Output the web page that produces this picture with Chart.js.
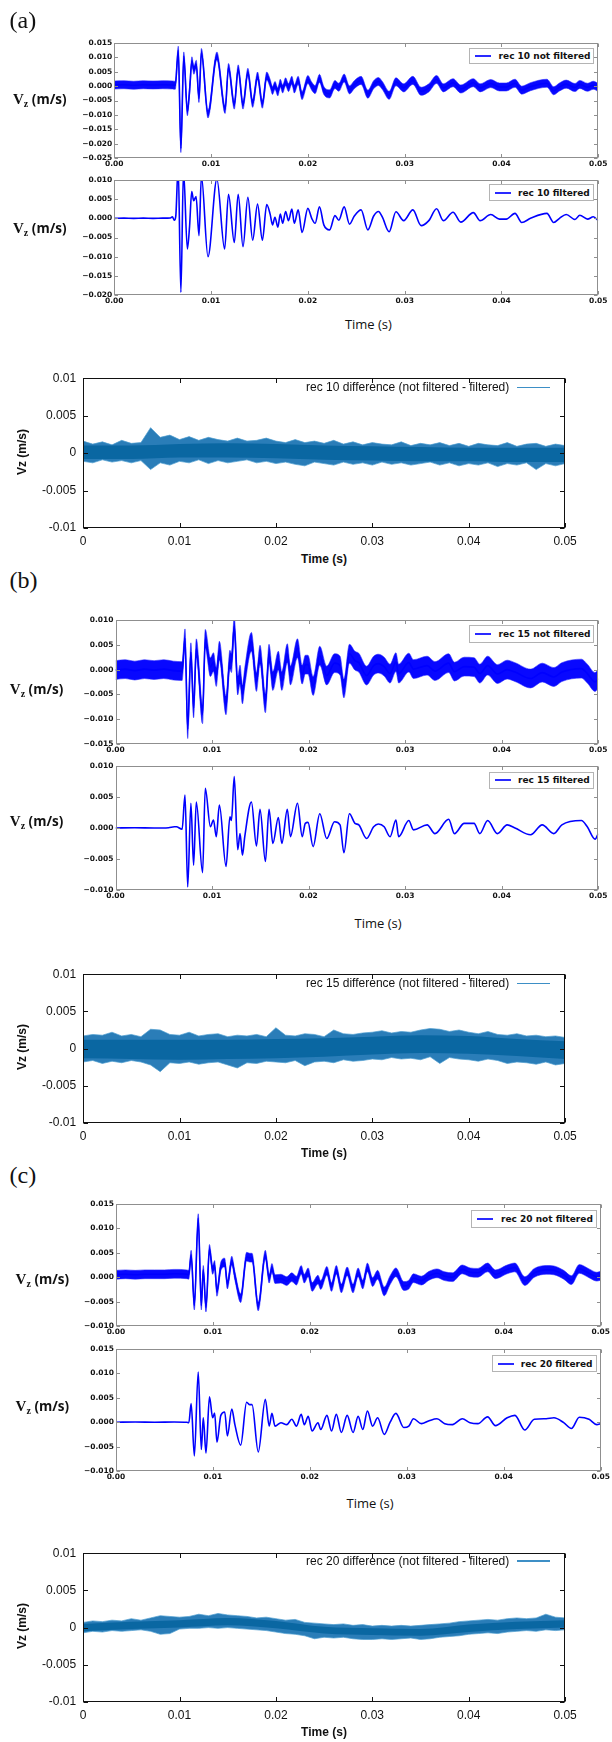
<!DOCTYPE html>
<html><head><meta charset="utf-8">
<script src="https://cdn.jsdelivr.net/npm/chart.js@4.4.1/dist/chart.umd.min.js"></script>
<style>
html,body{margin:0;padding:0;background:#fff;}
#page{position:relative;width:612px;height:1742px;overflow:hidden;background:#fff;}
#page canvas{position:absolute;left:0;}
.t{position:absolute;white-space:nowrap;z-index:5;color:#111;line-height:1;}
.panel{font-family:'Liberation Serif',serif;font-size:24px;}
.vz{font-family:'Open Sans',sans-serif;font-weight:700;font-size:13.5px;transform:translateY(-50%);}
.vz .v{font-family:'Liberation Serif',serif;font-weight:700;font-size:15px;}
.vz sub{font-family:'Liberation Serif',serif;font-weight:700;font-size:10px;vertical-align:-3px;line-height:1;}
.mtime{font-family:'Open Sans',sans-serif;font-size:13px;transform:translate(-50%,-50%);}
.mleg{position:absolute;z-index:5;background:#fff;border:1px solid #b4b4b4;box-sizing:border-box;}
.mleg .s{position:absolute;left:5px;width:16px;height:2px;top:50%;margin-top:-1px;background:#2a2aff;}
.mleg .x{position:absolute;top:50%;font-family:'DejaVu Sans',sans-serif;font-weight:bold;font-size:9px;line-height:1;transform:translateY(-50%);white-space:nowrap;color:#111;}
.gleg{font-family:'Liberation Sans',sans-serif;font-size:12px;transform:translate(-100%,-50%);}
.gs{position:absolute;z-index:5;height:1.5px;background:#3d8fc6;}
.gtime{font-family:'Liberation Sans',sans-serif;font-weight:bold;font-size:12px;transform:translate(-50%,-50%);}
.gvz{font-family:'Liberation Sans',sans-serif;font-weight:bold;font-size:12px;transform:translate(-50%,-50%) rotate(-90deg);}
</style>
</head><body>
<div id="page">
  <div class="t panel" style="left:9.5px;top:7.5px">(a)</div>
  <div class="t panel" style="left:9.5px;top:568px">(b)</div>
  <div class="t panel" style="left:9.5px;top:1162.5px">(c)</div>

  <div class="t vz" style="left:13px;top:100px"><span class="v">V</span><sub>z</sub> (m/s)</div>
  <div class="t vz" style="left:13px;top:229px"><span class="v">V</span><sub>z</sub> (m/s)</div>
  <div class="t vz" style="left:9.8px;top:690px"><span class="v">V</span><sub>z</sub> (m/s)</div>
  <div class="t vz" style="left:9.8px;top:821.7px"><span class="v">V</span><sub>z</sub> (m/s)</div>
  <div class="t vz" style="left:15.6px;top:1280px"><span class="v">V</span><sub>z</sub> (m/s)</div>
  <div class="t vz" style="left:15.6px;top:1406.7px"><span class="v">V</span><sub>z</sub> (m/s)</div>

  <div class="t mtime" style="left:368.4px;top:324px">Time (s)</div>
  <div class="t mtime" style="left:378px;top:922.7px">Time (s)</div>
  <div class="t mtime" style="left:370px;top:1503.3px">Time (s)</div>

  <div class="mleg" style="left:469px;top:47.7px;width:125px;height:16.6px"><div class="s"></div><div class="x" style="left:28.6px">rec 10 not filtered</div></div>
  <div class="mleg" style="left:489px;top:184.3px;width:105px;height:16.7px"><div class="s"></div><div class="x" style="left:28px">rec 10 filtered</div></div>
  <div class="mleg" style="left:469px;top:625px;width:125px;height:17.7px"><div class="s"></div><div class="x" style="left:28.6px">rec 15 not filtered</div></div>
  <div class="mleg" style="left:489px;top:771.7px;width:105px;height:17.3px"><div class="s"></div><div class="x" style="left:28px">rec 15 filtered</div></div>
  <div class="mleg" style="left:471.4px;top:1210px;width:125.3px;height:17.7px"><div class="s"></div><div class="x" style="left:28.6px">rec 20 not filtered</div></div>
  <div class="mleg" style="left:491.7px;top:1355px;width:105px;height:17.3px"><div class="s"></div><div class="x" style="left:28px">rec 20 filtered</div></div>

  <div class="t gleg" style="left:509.3px;top:387.3px">rec 10 difference (not filtered - filtered)</div>
  <div class="gs" style="left:517px;width:33px;top:386.5px"></div>
  <div class="t gleg" style="left:509.3px;top:983.3px">rec 15 difference (not filtered - filtered)</div>
  <div class="gs" style="left:517px;width:33px;top:982.5px"></div>
  <div class="t gleg" style="left:509.3px;top:1561px">rec 20 difference (not filtered - filtered)</div>
  <div class="gs" style="left:517px;width:33px;top:1560.2px"></div>

  <div class="t gtime" style="left:324px;top:558.7px">Time (s)</div>
  <div class="t gtime" style="left:324px;top:1153.3px">Time (s)</div>
  <div class="t gtime" style="left:324px;top:1732.3px">Time (s)</div>
  <div class="t gvz" style="left:21.5px;top:451.7px">Vz (m/s)</div>
  <div class="t gvz" style="left:21.5px;top:1046.7px">Vz (m/s)</div>
  <div class="t gvz" style="left:21.5px;top:1625.7px">Vz (m/s)</div>
</div>
<script>
// ---------- axis ticks ----------
const timeTicks = [0, 0.01, 0.02, 0.03, 0.04, 0.05];
const mplTimeLabels = ['0.00', '0.01', '0.02', '0.03', '0.04', '0.05'];
const gnuTimeLabels = ['0', '0.01', '0.02', '0.03', '0.04', '0.05'];
const rec10NotFilteredYTicks = [0.015, 0.01, 0.005, 0, -0.005, -0.01, -0.015, -0.02, -0.025];
const rec10FilteredYTicks = [0.01, 0.005, 0, -0.005, -0.01, -0.015, -0.02];
const rec15NotFilteredYTicks = [0.01, 0.005, 0, -0.005, -0.01, -0.015];
const rec15FilteredYTicks = [0.01, 0.005, 0, -0.005, -0.01];
const rec20YTicks = [0.015, 0.01, 0.005, 0, -0.005, -0.01];
const diffYTicks = [0.01, 0.005, 0, -0.005, -0.01];
const diffYTickLabels = ['0.01', '0.005', '0', '-0.005', '-0.01'];

// ---------- rec 10 ----------  [time (s), Vz (m/s)]
const rec10NotFiltered = [[0,0.0004],[0.001,0.0005],[0.002,0.0003],[0.003,0.0005],[0.004,0.0004],[0.005,0.0005],[0.006,0.0004],[0.0063,0.0003],[0.00661,0.0125],[0.00688,-0.0217],[0.00718,0.0105],[0.00755,-0.0089],[0.00778,-0.0015],[0.00802,0.0088],[0.00822,0.0055],[0.00847,0.0076],[0.00875,-0.0043],[0.009,0.0117],[0.00968,-0.0097],[0.0106,0.0105],[0.01145,-0.0081],[0.0118,0.0065],[0.0124,-0.0066],[0.0128,0.006],[0.0133,-0.0066],[0.0138,0.0048],[0.0143,-0.006],[0.0148,0.0035],[0.0153,-0.0063],[0.01575,0.0035],[0.0161,0.001],[0.01635,-0.0015],[0.0166,0.0002],[0.0169,-0.002],[0.01715,0.001],[0.0174,-0.001],[0.0177,0.0015],[0.018,-0.0005],[0.01835,0.002],[0.0186,-0.001],[0.019,0.002],[0.0194,-0.0033],[0.02,0.0023],[0.0204,0],[0.02075,-0.0012],[0.0212,0.0027],[0.02165,-0.0015],[0.02225,-0.0027],[0.0228,0.0006],[0.0232,-0.0004],[0.02375,0.0028],[0.0243,-0.0013],[0.0248,0.0005],[0.0255,0.002],[0.0262,-0.0028],[0.0268,0.0005],[0.0273,0.0016],[0.0277,0.0002],[0.0284,-0.0032],[0.0291,0.0015],[0.0299,-0.0006],[0.03085,0.002],[0.0317,-0.0018],[0.0325,-0.0006],[0.0333,0.0023],[0.034,-0.0006],[0.035,0.0012],[0.0358,-0.001],[0.0371,0.0012],[0.0378,-0.0006],[0.0389,0.0009],[0.0398,-0.0003],[0.0405,-0.0003],[0.0414,0.001],[0.0421,-0.0014],[0.043,-0.0002],[0.0447,0.001],[0.0454,-0.0016],[0.046,-0.0003],[0.0467,0.0007],[0.0476,-0.0005],[0.0481,0.0006],[0.0489,-0.0004],[0.0495,0.0003],[0.05,-0.0005]];
const rec10NoiseHalfWidth = 0.0014;
const rec10Filtered = [[0,0],[0.001,0.00005],[0.002,0],[0.003,0.00005],[0.004,0],[0.005,0.00005],[0.0058,0.0001],[0.006,0.0004],[0.0062,-0.0005],[0.00635,0.0005],[0.0066,0.0135],[0.00688,-0.0193],[0.00715,0.0125],[0.00755,-0.008],[0.00778,-0.002],[0.008,0.007],[0.0082,0.0046],[0.00845,0.0057],[0.00875,-0.0045],[0.009,0.011],[0.00968,-0.01],[0.0106,0.0102],[0.0114,-0.008],[0.0118,0.0063],[0.0124,-0.0063],[0.0128,0.0063],[0.0133,-0.0074],[0.0138,0.0055],[0.0143,-0.0057],[0.0148,0.0037],[0.0153,-0.0057],[0.01575,0.0036],[0.0161,0.0011],[0.01635,-0.0017],[0.0166,0.0003],[0.0169,-0.0023],[0.01715,0.0011],[0.0174,-0.0013],[0.0177,0.0018],[0.018,-0.0006],[0.01835,0.0024],[0.0186,-0.0013],[0.019,0.0022],[0.0194,-0.0037],[0.02,0.0026],[0.0204,0],[0.02075,-0.0013],[0.0212,0.003],[0.02165,-0.0017],[0.02225,-0.003],[0.0228,0.0007],[0.0232,-0.0005],[0.02375,0.003],[0.0243,-0.0015],[0.0248,0.0006],[0.0255,0.0022],[0.0262,-0.003],[0.0268,0.0006],[0.0273,0.0018],[0.0277,0.0003],[0.0284,-0.0035],[0.0291,0.0017],[0.0299,-0.0006],[0.03085,0.0022],[0.0317,-0.0019],[0.0325,-0.0006],[0.0333,0.0025],[0.034,-0.0006],[0.035,0.0016],[0.0358,-0.001],[0.0371,0.0015],[0.0378,-0.0006],[0.0389,0.001],[0.0398,-0.0002],[0.0405,-0.0002],[0.0414,0.0013],[0.0421,-0.0011],[0.043,0],[0.0447,0.0013],[0.0454,-0.0011],[0.046,0],[0.0467,0.001],[0.0476,-0.0003],[0.0481,0.0008],[0.0489,-0.0002],[0.0495,0.0004],[0.05,-0.0006]];

// ---------- rec 15 ----------
const rec15NotFiltered = [[0,-0.0001],[0.001,0.0001],[0.002,-0.0002],[0.003,0.0001],[0.004,-0.0001],[0.005,0.0001],[0.006,-0.0002],[0.0069,-0.0003],[0.0072,0.0063],[0.00748,-0.012],[0.00781,0.0035],[0.00809,-0.0078],[0.00837,0.0043],[0.00902,-0.009],[0.0093,0.0062],[0.00983,0.0005],[0.01015,0.0015],[0.01044,-0.0015],[0.01076,0.0038],[0.01145,-0.0072],[0.01185,0.002],[0.01201,0.0013],[0.0123,0.0088],[0.01266,-0.0032],[0.0129,-0.001],[0.01315,-0.005],[0.01339,-0.0015],[0.01408,0.0056],[0.0146,-0.0025],[0.01497,0.003],[0.01553,-0.0068],[0.0159,0.0032],[0.0163,-0.0023],[0.01687,0.0018],[0.01723,-0.0023],[0.0178,0.0033],[0.01812,-0.0012],[0.01885,0.0043],[0.01934,-0.001],[0.01966,0.001],[0.01994,0.001],[0.02047,-0.0033],[0.02116,0.0028],[0.02188,-0.0012],[0.02269,0.0013],[0.02326,0.0008],[0.02366,-0.0038],[0.02423,0.0032],[0.0248,0.0018],[0.0252,0.0014],[0.02601,-0.0012],[0.02674,0.0008],[0.02723,0.0012],[0.02783,0.0006],[0.02844,-0.0008],[0.02905,0.0015],[0.02933,-0.0008],[0.03038,0.0014],[0.03087,0.0001],[0.03228,0.0008],[0.03309,-0.0003],[0.03451,0.0013],[0.03511,-0.0004],[0.03612,0.0006],[0.03714,0.0005],[0.03774,-0.0008],[0.03855,0.0008],[0.03956,-0.0009],[0.04057,0],[0.04138,-0.0005],[0.043,-0.0018],[0.0442,-0.0006],[0.0454,-0.0015],[0.04624,-0.0005],[0.04826,0.0002],[0.04887,-0.0008],[0.04968,-0.0025],[0.05,-0.0018]];
const rec15NoiseHalfWidth = 0.0019;
const rec15Filtered = [[0,0],[0.002,0.00005],[0.004,0],[0.0055,0.00005],[0.0061,0.0002],[0.0063,0.0002],[0.0069,-0.0002],[0.0072,0.0053],[0.00748,-0.0095],[0.00781,0.004],[0.00809,-0.006],[0.00837,0.0042],[0.00902,-0.0072],[0.0093,0.0064],[0.00983,0.0002],[0.01015,0.0013],[0.01044,-0.0014],[0.01076,0.0037],[0.01145,-0.0062],[0.01185,0.0018],[0.01201,0.0012],[0.0123,0.0083],[0.01266,-0.0035],[0.0129,-0.0009],[0.01315,-0.0044],[0.01339,-0.0014],[0.01408,0.0042],[0.0146,-0.0029],[0.01497,0.003],[0.01553,-0.0054],[0.0159,0.003],[0.0163,-0.0025],[0.01687,0.0017],[0.01723,-0.0025],[0.0178,0.003],[0.01812,-0.0014],[0.01885,0.004],[0.01934,-0.0014],[0.01966,0.00075],[0.01994,0.0009],[0.02047,-0.003],[0.02116,0.0023],[0.02188,-0.0017],[0.02269,0.001],[0.02326,0.0005],[0.02366,-0.004],[0.02423,0.0023],[0.0248,0.00075],[0.0252,0.0005],[0.02601,-0.0017],[0.02674,0.0002],[0.02723,0.00065],[0.02783,0.0002],[0.02844,-0.0014],[0.02905,0.0013],[0.02933,-0.0014],[0.03038,0.0012],[0.03087,-0.0003],[0.03228,0.0005],[0.03309,-0.0009],[0.03451,0.0014],[0.03511,-0.0009],[0.03612,0.00075],[0.03714,0.00075],[0.03774,-0.0009],[0.03855,0.0012],[0.03956,-0.0009],[0.04057,0.0005],[0.04138,0],[0.043,-0.0011],[0.0442,0.0005],[0.0454,-0.0009],[0.04624,0.0005],[0.04826,0.0012],[0.04887,0.0002],[0.04968,-0.0018],[0.05,-0.0009]];

// ---------- rec 20 ----------
const rec20NotFiltered = [[0,0.0005],[0.001,0.0006],[0.002,0.0005],[0.003,0.0006],[0.004,0.0006],[0.005,0.0006],[0.006,0.0007],[0.0073,0.0006],[0.00752,0.0005],[0.00776,0.0046],[0.00809,-0.0058],[0.00849,0.0121],[0.00881,-0.0058],[0.00901,0.0015],[0.00929,-0.0062],[0.00965,0.0058],[0.00998,0.0015],[0.01018,0.0025],[0.01042,-0.003],[0.01082,0.0022],[0.01122,0.003],[0.0115,-0.0015],[0.01195,0.0034],[0.01227,0.0003],[0.01287,-0.0043],[0.01348,0.0042],[0.0138,0.004],[0.01404,0.004],[0.01468,-0.006],[0.01541,0.0046],[0.01581,-0.0003],[0.01609,0.0019],[0.01641,-0.0004],[0.01702,-0.0003],[0.01762,-0.0008],[0.01814,0],[0.01862,-0.0007],[0.01911,0.0015],[0.01943,-0.0003],[0.01983,0.001],[0.02023,-0.002],[0.02084,-0.0005],[0.02112,-0.0016],[0.02176,0.0013],[0.02224,-0.002],[0.02273,0.0015],[0.02325,-0.0023],[0.02385,0.0012],[0.02446,-0.0023],[0.02498,0.001],[0.02546,-0.0015],[0.02594,0.002],[0.02647,-0.001],[0.02699,0.0005],[0.02768,-0.0029],[0.02828,-0.0006],[0.02888,0.001],[0.02969,-0.0018],[0.03021,-0.0015],[0.03069,-0.0002],[0.0315,-0.0007],[0.0323,0.0003],[0.03311,0.0008],[0.03391,0.0002],[0.03471,0],[0.03572,0.0016],[0.03652,0.001],[0.03733,0.0009],[0.03833,0.002],[0.03914,0.0006],[0.04035,0.0016],[0.04115,0.002],[0.04216,-0.0008],[0.04316,0.0009],[0.04437,0.0015],[0.04517,0.0014],[0.04618,0.0005],[0.04698,-0.0006],[0.04779,0.0017],[0.04879,0.0008],[0.0496,0.0001],[0.05,0.0003]];
const rec20NoiseHalfWidth = 0.0009;
const rec20Filtered = [[0,0],[0.002,0.00005],[0.004,0],[0.006,0.00005],[0.0073,0],[0.00752,-0.0001],[0.00776,0.0038],[0.00809,-0.0069],[0.00849,0.0103],[0.00881,-0.0056],[0.00901,0.0009],[0.00929,-0.0063],[0.00965,0.0052],[0.00998,0.0009],[0.01018,0.0019],[0.01042,-0.0041],[0.01082,0.0014],[0.01122,0.0021],[0.0115,-0.0028],[0.01195,0.0027],[0.01227,-0.0005],[0.01287,-0.0047],[0.01348,0.0041],[0.0138,0.0036],[0.01404,0.0036],[0.01468,-0.0061],[0.01541,0.0047],[0.01581,-0.0008],[0.01609,0.0018],[0.01641,-0.0008],[0.01702,-0.0001],[0.01762,-0.0005],[0.01814,0.0006],[0.01862,-0.0008],[0.01911,0.0016],[0.01943,-0.0005],[0.01983,0.0012],[0.02023,-0.0018],[0.02084,-0.0001],[0.02112,-0.0015],[0.02176,0.0014],[0.02224,-0.0018],[0.02273,0.0016],[0.02325,-0.0021],[0.02385,0.0014],[0.02446,-0.0021],[0.02498,0.0012],[0.02546,-0.0015],[0.02594,0.0023],[0.02647,-0.0008],[0.02699,0.0009],[0.02768,-0.0025],[0.02828,0],[0.02888,0.0018],[0.02969,-0.0011],[0.03021,-0.0008],[0.03069,0.0007],[0.0315,-0.0003],[0.0323,0.0003],[0.03311,0.0007],[0.03391,-0.0003],[0.03471,-0.0005],[0.03572,0.0007],[0.03652,-0.0001],[0.03733,-0.0003],[0.03833,0.0011],[0.03914,-0.0007],[0.04035,0.0009],[0.04115,0.0014],[0.04216,-0.0016],[0.04316,0.0006],[0.04437,0.0007],[0.04517,0.0009],[0.04618,-0.0001],[0.04698,-0.0013],[0.04779,0.001],[0.04879,0.0006],[0.0496,-0.0005],[0.05,-0.0003]];

// ---------- differences (noise envelope: spike extent and dense core) ----------
const diffTime = [0,0.001,0.002,0.003,0.004,0.005,0.006,0.007,0.008,0.009,0.01,0.011,0.012,0.013,0.014,0.015,0.016,0.017,0.018,0.019,0.02,0.021,0.022,0.023,0.024,0.025,0.026,0.027,0.028,0.029,0.03,0.031,0.032,0.033,0.034,0.035,0.036,0.037,0.038,0.039,0.04,0.041,0.042,0.043,0.044,0.045,0.046,0.047,0.048,0.049,0.05];
const diffCoreTime = [0,0.005,0.01,0.015,0.02,0.025,0.03,0.035,0.04,0.045,0.05];

const rec10DiffHigh = [0.0016,0.0012,0.0015,0.0011,0.0017,0.0013,0.0014,0.0034,0.0021,0.0024,0.0018,0.0022,0.0017,0.0021,0.0018,0.0016,0.0020,0.0016,0.0017,0.0020,0.0016,0.0014,0.0018,0.0014,0.0016,0.0013,0.0017,0.0012,0.0015,0.0011,0.0014,0.0012,0.0011,0.0015,0.0010,0.0013,0.0011,0.0014,0.0010,0.0013,0.0009,0.0013,0.0011,0.0010,0.0014,0.0009,0.0012,0.0013,0.0009,0.0012,0.0010];
const rec10DiffLow = [-0.0011,-0.0013,-0.0009,-0.0012,-0.0010,-0.0013,-0.0010,-0.0022,-0.0013,-0.0016,-0.0011,-0.0013,-0.0009,-0.0014,-0.0010,-0.0013,-0.0011,-0.0009,-0.0013,-0.0011,-0.0014,-0.0012,-0.0015,-0.0017,-0.0012,-0.0014,-0.0016,-0.0012,-0.0015,-0.0013,-0.0016,-0.0012,-0.0015,-0.0013,-0.0016,-0.0014,-0.0012,-0.0016,-0.0013,-0.0017,-0.0014,-0.0016,-0.0013,-0.0018,-0.0014,-0.0016,-0.0013,-0.0022,-0.0014,-0.0017,-0.0014];
const rec10DiffCoreHigh = [0.0010,0.0010,0.0012,0.0013,0.0012,0.0010,0.0009,0.0008,0.0007,0.0007,0.0007];
const rec10DiffCoreLow = [-0.0008,-0.0008,-0.0006,-0.0006,-0.0007,-0.0009,-0.0010,-0.0011,-0.0011,-0.0012,-0.0012];

const rec15DiffHigh = [0.0017,0.0019,0.0018,0.0022,0.0017,0.0019,0.0016,0.0026,0.0025,0.0019,0.0018,0.0022,0.0017,0.0019,0.0020,0.0016,0.0018,0.0017,0.0019,0.0016,0.0028,0.0018,0.0017,0.0020,0.0019,0.0016,0.0025,0.0020,0.0019,0.0021,0.0022,0.0024,0.0021,0.0023,0.0022,0.0025,0.0027,0.0026,0.0023,0.0025,0.0022,0.0020,0.0023,0.0019,0.0018,0.0020,0.0017,0.0018,0.0016,0.0017,0.0015];
const rec15DiffLow = [-0.0018,-0.0016,-0.0020,-0.0017,-0.0019,-0.0016,-0.0018,-0.0022,-0.0031,-0.0019,-0.0020,-0.0018,-0.0021,-0.0019,-0.0018,-0.0022,-0.0026,-0.0019,-0.0020,-0.0017,-0.0018,-0.0019,-0.0016,-0.0023,-0.0018,-0.0017,-0.0019,-0.0015,-0.0017,-0.0016,-0.0014,-0.0015,-0.0012,-0.0014,-0.0013,-0.0015,-0.0011,-0.0020,-0.0012,-0.0014,-0.0015,-0.0017,-0.0014,-0.0016,-0.0020,-0.0018,-0.0019,-0.0021,-0.0018,-0.0022,-0.0020];
const rec15DiffCoreHigh = [0.0012,0.0012,0.0012,0.0012,0.0013,0.0014,0.0016,0.0018,0.0017,0.0013,0.0010];
const rec15DiffCoreLow = [-0.0013,-0.0014,-0.0015,-0.0014,-0.0013,-0.0011,-0.0008,-0.0006,-0.0007,-0.0010,-0.0014];

const rec20DiffHigh = [0.0007,0.0009,0.0008,0.0010,0.0009,0.0012,0.0010,0.0013,0.0016,0.0015,0.0014,0.0015,0.0018,0.0016,0.0019,0.0017,0.0016,0.0015,0.0013,0.0014,0.0012,0.0010,0.0011,0.0007,0.0006,0.0005,0.0004,0.0005,0.0003,0.0004,0.0002,0.0003,0.0002,0.0003,0.0002,0.0003,0.0004,0.0005,0.0006,0.0008,0.0009,0.0010,0.0011,0.0010,0.0012,0.0013,0.0012,0.0013,0.0018,0.0014,0.0013];
const rec20DiffLow = [-0.0007,-0.0005,-0.0006,-0.0004,-0.0005,-0.0004,-0.0003,-0.0005,-0.0009,-0.0008,-0.0002,-0.0001,-0.0001,0.0000,-0.0001,0.0000,-0.0001,-0.0002,-0.0003,-0.0004,-0.0006,-0.0008,-0.0009,-0.0011,-0.0015,-0.0013,-0.0014,-0.0013,-0.0015,-0.0016,-0.0016,-0.0015,-0.0016,-0.0015,-0.0014,-0.0016,-0.0015,-0.0013,-0.0012,-0.0011,-0.0009,-0.0008,-0.0007,-0.0008,-0.0006,-0.0005,-0.0004,-0.0005,-0.0003,-0.0004,-0.0003];
const rec20DiffCoreHigh = [0.0005,0.0008,0.0010,0.0013,0.0009,0.0001,-0.0001,-0.0002,0.0004,0.0008,0.0010];
const rec20DiffCoreLow = [-0.0005,-0.0002,0.0000,0.0003,-0.0001,-0.0008,-0.0010,-0.0011,-0.0006,-0.0002,0.0000];

// ---------- helpers ----------
const MPL_BLUE = '#0000ff';
const GNU_CORE = '#0a67a2';
const GNU_EDGE = '#4f9dd0';
const mplYLabel = v => (v < 0 ? '\u2212' : '') + Math.abs(v).toFixed(3);

function lineDataset(pairs) {
  return {data: pairs.map(p => ({x: p[0], y: p[1]})), borderColor: MPL_BLUE, borderWidth: 1.6,
          fill: false, cubicInterpolationMode: 'monotone'};
}
function noisyDatasets(pairs, half) {
  return [
    lineDataset(pairs),
    {data: pairs.map(p => ({x: p[0], y: p[1] + half})), borderWidth: 0.8, borderColor: 'rgba(40,40,255,0.7)', fill: false, cubicInterpolationMode: 'monotone'},
    {data: pairs.map(p => ({x: p[0], y: p[1] - half})), borderWidth: 0.8, borderColor: 'rgba(40,40,255,0.7)', fill: '-1', backgroundColor: '#0808ff', cubicInterpolationMode: 'monotone'}
  ];
}
// Chart.js paints the last dataset first, so the dense core (first) ends up on top of the spike envelope.
function diffDatasets(hi, lo, coreHi, coreLo) {
  return [
    {data: diffCoreTime.map((t, i) => ({x: t, y: coreHi[i]})), borderWidth: 0, borderColor: 'rgba(0,0,0,0)', fill: false, cubicInterpolationMode: 'monotone'},
    {data: diffCoreTime.map((t, i) => ({x: t, y: coreLo[i]})), borderWidth: 0, borderColor: 'rgba(0,0,0,0)', fill: '-1', backgroundColor: GNU_CORE, cubicInterpolationMode: 'monotone'},
    {data: diffTime.map((t, i) => ({x: t, y: hi[i]})), borderColor: GNU_EDGE, borderWidth: 0.7, fill: false},
    {data: diffTime.map((t, i) => ({x: t, y: lo[i]})), borderColor: GNU_EDGE, borderWidth: 0.7, fill: '-1', backgroundColor: '#2a7db8'}
  ];
}

const framePlugin = {
  id: 'frame',
  afterDatasetsDraw(chart, args, opts) {
    const {ctx, chartArea: a, scales: {x, y}} = chart;
    const gnu = opts.gnu;
    ctx.save();
    ctx.strokeStyle = gnu ? '#111' : '#8f8f8f';
    ctx.lineWidth = 1;
    const l = Math.round(a.left) + 0.5, r = Math.round(a.right) - 0.5;
    const t = Math.round(a.top) + 0.5, b = Math.round(a.bottom) - 0.5;
    ctx.strokeRect(l, t, r - l, b - t);
    const len = gnu ? 4.5 : 3.5;
    ctx.beginPath();
    x.ticks.forEach(tk => {
      const p = Math.round(x.getPixelForValue(tk.value)) + 0.5;
      ctx.moveTo(p, b); ctx.lineTo(p, b - len);
      ctx.moveTo(p, t); ctx.lineTo(p, t + len);
    });
    y.ticks.forEach(tk => {
      const p = Math.round(y.getPixelForValue(tk.value)) + 0.5;
      ctx.moveTo(l, p); ctx.lineTo(l + len, p);
      ctx.moveTo(r, p); ctx.lineTo(r - len, p);
    });
    ctx.stroke();
    ctx.restore();
  }
};

const page = document.getElementById('page');
function makeChart(spec) {
  const gnu = spec.style === 'gnu';
  const padTop = 12;
  const bottom = gnu ? 24 : 14;
  const cv = document.createElement('canvas');
  const H = Math.round(spec.B - spec.T + padTop + bottom);
  cv.width = 612; cv.height = H;
  cv.style.width = '612px'; cv.style.height = H + 'px';
  cv.style.top = (spec.T - padTop) + 'px';
  page.insertBefore(cv, page.firstChild);
  const tickFont = gnu ? {family: 'Liberation Sans', size: 12} : {family: 'DejaVu Sans', size: 7.5, weight: 'bold'};
  const yLabels = spec.yLabels || spec.yTicks.map(mplYLabel);
  new Chart(cv, {
    type: 'line',
    data: {datasets: spec.datasets},
    options: {
      responsive: false, animation: false, events: [],
      layout: {padding: {top: padTop, right: 612 - spec.R, left: 0, bottom: 0}},
      plugins: {legend: {display: false}, tooltip: {enabled: false}, frame: {gnu: gnu}},
      elements: {point: {radius: 0}, line: {tension: 0}},
      scales: {
        x: {type: 'linear', min: 0, max: 0.05,
            grid: {display: false, drawTicks: false}, border: {display: false},
            afterBuildTicks: s => { s.ticks = timeTicks.map(v => ({value: v})); },
            afterFit: s => { s.height = bottom; },
            ticks: {autoSkip: false, maxRotation: 0, minRotation: 0, padding: gnu ? 6 : 2, color: '#111', font: tickFont,
                    callback: (v, i) => (gnu ? gnuTimeLabels : mplTimeLabels)[i]}},
        y: {type: 'linear', min: spec.yMin, max: spec.yMax,
            grid: {display: false, drawTicks: false}, border: {display: false},
            afterBuildTicks: s => { s.ticks = spec.yTicks.map(v => ({value: v})); },
            afterFit: s => { s.width = spec.L; },
            ticks: {autoSkip: false, padding: gnu ? 7 : 2, color: '#111', font: tickFont,
                    callback: (v, i) => yLabels[i]}}
      }
    },
    plugins: [framePlugin]
  });
}

// ---------- panel (a) rec 10 ----------
makeChart({style: 'mpl', L: 114.3, R: 598.2, T: 43.3, B: 158.3, yMin: -0.025, yMax: 0.015, yTicks: rec10NotFilteredYTicks,
           datasets: noisyDatasets(rec10NotFiltered, rec10NoiseHalfWidth)});
makeChart({style: 'mpl', L: 114.3, R: 598.2, T: 180, B: 295, yMin: -0.02, yMax: 0.01, yTicks: rec10FilteredYTicks,
           datasets: [lineDataset(rec10Filtered)]});
makeChart({style: 'gnu', L: 83.1, R: 565.1, T: 375.7, B: 528, yMin: -0.01, yMax: 0.01, yTicks: diffYTicks, yLabels: diffYTickLabels,
           datasets: diffDatasets(rec10DiffHigh, rec10DiffLow, rec10DiffCoreHigh, rec10DiffCoreLow)});
// ---------- panel (b) rec 15 ----------
makeChart({style: 'mpl', L: 115.5, R: 598.2, T: 620, B: 744, yMin: -0.015, yMax: 0.01, yTicks: rec15NotFilteredYTicks,
           datasets: noisyDatasets(rec15NotFiltered, rec15NoiseHalfWidth)});
makeChart({style: 'mpl', L: 115.5, R: 598.2, T: 766, B: 890, yMin: -0.01, yMax: 0.01, yTicks: rec15FilteredYTicks,
           datasets: [lineDataset(rec15Filtered)]});
makeChart({style: 'gnu', L: 83.1, R: 565.1, T: 971.7, B: 1122.7, yMin: -0.01, yMax: 0.01, yTicks: diffYTicks, yLabels: diffYTickLabels,
           datasets: diffDatasets(rec15DiffHigh, rec15DiffLow, rec15DiffCoreHigh, rec15DiffCoreLow)});
// ---------- panel (c) rec 20 ----------
makeChart({style: 'mpl', L: 115.9, R: 601, T: 1204.3, B: 1326.7, yMin: -0.01, yMax: 0.015, yTicks: rec20YTicks,
           datasets: noisyDatasets(rec20NotFiltered, rec20NoiseHalfWidth)});
makeChart({style: 'mpl', L: 115.9, R: 601, T: 1349.3, B: 1471.7, yMin: -0.01, yMax: 0.015, yTicks: rec20YTicks,
           datasets: [lineDataset(rec20Filtered)]});
makeChart({style: 'gnu', L: 83.1, R: 565.1, T: 1550.7, B: 1701.7, yMin: -0.01, yMax: 0.01, yTicks: diffYTicks, yLabels: diffYTickLabels,
           datasets: diffDatasets(rec20DiffHigh, rec20DiffLow, rec20DiffCoreHigh, rec20DiffCoreLow)});
</script>
</body></html>
